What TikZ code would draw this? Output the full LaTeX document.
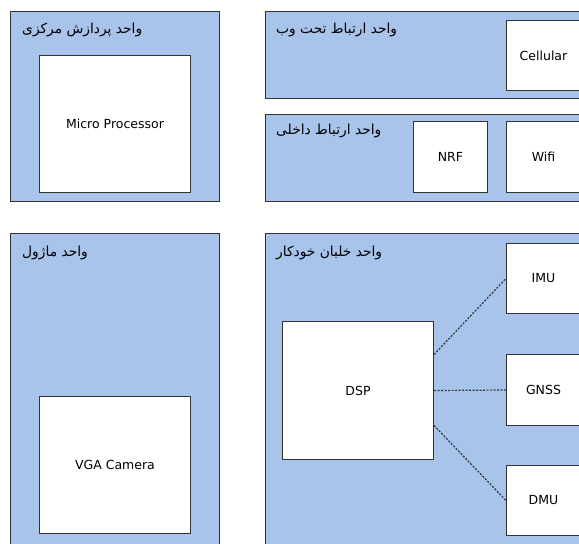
\documentclass[tikz,border=0pt]{standalone}
\usepackage{fontspec}
\setmainfont{DejaVu Sans}
\newfontfamily\persianfont[Script=Arabic]{DejaVu Sans}
\TeXXeTstate=1
\usepackage{tikz}

\definecolor{panelblue}{HTML}{A9C4EB}
\definecolor{edgegray}{HTML}{333333}

\tikzset{
  panel/.style={draw=edgegray, line width=1pt, fill=panelblue, anchor=north west, inner sep=0pt},
  unitbox/.style={draw=edgegray, line width=1pt, fill=white, anchor=north west, inner sep=0pt},
  paneltitle/.style={anchor=north west, inner sep=0pt, font=\persianfont\fontsize{13.8}{15}\selectfont},
  link/.style={draw=edgegray, line width=1.2pt, dash pattern=on 2pt off 1.5pt}
}

\begin{document}
\begin{tikzpicture}[x=1pt, y=-1pt, font=\fontsize{12.5}{14}\selectfont]
    \useasboundingbox (0,0) rectangle (579,544);
    \clip (0,0) rectangle (579,544);

    % Panels
    \node[panel, minimum width=209pt, minimum height=190pt] (cpu) at (10,11) {};
    \node[panel, minimum width=330pt, minimum height=87pt] (web) at (265,11) {};
    \node[panel, minimum width=330pt, minimum height=87pt] (internal) at (265,114) {};
    \node[panel, minimum width=209pt, minimum height=340pt] (module) at (10,233) {};
    \node[panel, minimum width=330pt, minimum height=340pt] (autopilot) at (265,233) {};

    % Panel titles
    \node[paneltitle] (cputitle) at (22,23) {\beginR واحد پردازش مرکزی\endR};
    \node[paneltitle] (webtitle) at (276,23) {\beginR واحد ارتباط تحت وب\endR};
    \node[paneltitle] (internaltitle) at (276,124) {\beginR واحد ارتباط داخلی\endR};
    \node[paneltitle] (moduletitle) at (22,246) {\beginR واحد ماژول\endR};
    \node[paneltitle] (autopilottitle) at (276,246) {\beginR واحد خلبان خودکار\endR};

    % Units
    \node[unitbox, minimum width=151pt, minimum height=137pt] (micro) at (39,55) {};
    \node at (micro.center) {Micro Processor};
    \node[unitbox, minimum width=74pt, minimum height=70pt] (cellular) at (506,20) {};
    \node at (cellular.center) {Cellular};
    \node[unitbox, minimum width=74pt, minimum height=71pt] (nrf) at (413,121) {};
    \node at (nrf.center) {NRF};
    \node[unitbox, minimum width=74pt, minimum height=71pt] (wifi) at (506,121) {};
    \node at (wifi.center) {Wifi};
    \node[unitbox, minimum width=151pt, minimum height=137pt] (vga) at (39,396) {};
    \node at (vga.center) {VGA Camera};
    \node[unitbox, minimum width=151pt, minimum height=138pt] (dsp) at (282,321) {};
    \node at (dsp.center) {DSP};
    \node[unitbox, minimum width=74pt, minimum height=70pt] (imu) at (506,243) {};
    \node at (imu.center) {IMU};
    \node[unitbox, minimum width=74pt, minimum height=71pt] (gnss) at (506,354) {};
    \node at (gnss.center) {GNSS};
    \node[unitbox, minimum width=74pt, minimum height=70pt] (dmu) at (506,465) {};
    \node at (dmu.center) {DMU};

    % Links
    \draw[link] ([yshift=36pt]dsp.east) -- (imu.west);
    \draw[link] (dsp.east) -- (gnss.west);
    \draw[link] ([yshift=-35pt]dsp.east) -- (dmu.west);
\end{tikzpicture}
\end{document}
